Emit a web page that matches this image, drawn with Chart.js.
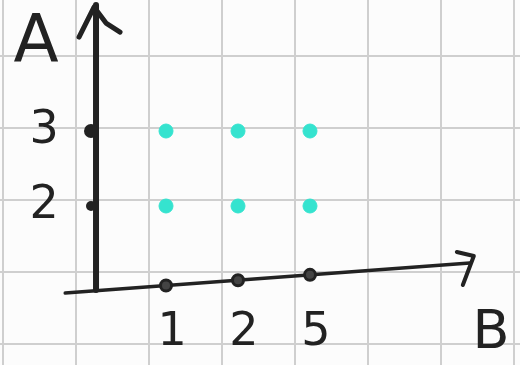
<!DOCTYPE html>
<html>
<head>
<meta charset="utf-8">
<script src="https://cdn.jsdelivr.net/npm/chart.js@4.4.1/dist/chart.umd.min.js"></script>
<style>
  html, body { margin: 0; padding: 0; background: #fcfcfc; }
  #wrap { width: 520px; height: 365px; }
</style>
</head>
<body>
<div id="wrap"><canvas id="myChart"></canvas></div>
<script>
// axis names and tick labels
const axisNameX = 'B';
const axisNameY = 'A';
const ticksB = ['1', '2', '5'];
const ticksA = ['2', '3'];

// the points, one entry per dot (B value, A value)
const pointB = ['1', '2', '5', '1', '2', '5'];
const pointA = ['3', '3', '3', '2', '2', '2'];

// axes cross one step before the first tick; x axis is drawn a bit uphill
const originB = -1;
const xAxisFrom = { b: -1.4, a: -1.16 };
const xAxisTo = { b: 4.22, a: -0.76 };
const yAxisTop = 2.68;
const yAxisBottom = -1.12;

const ink = '#222222';
const teal = '#35e3cf';

const scatterData = pointB.map((b, i) => ({
  x: ticksB.indexOf(b),
  y: ticksA.indexOf(pointA[i])
}));

// A value of the sloped x axis at a given B position
function xAxisA(b) {
  const t = (b - xAxisFrom.b) / (xAxisTo.b - xAxisFrom.b);
  return xAxisFrom.a + t * (xAxisTo.a - xAxisFrom.a);
}

function line(c, pts, w) {
  c.beginPath();
  c.moveTo(pts[0][0], pts[0][1]);
  for (let i = 1; i < pts.length; i++) c.lineTo(pts[i][0], pts[i][1]);
  c.lineWidth = w;
  c.stroke();
}

const sketchAxes = {
  id: 'sketchAxes',
  afterDatasetsDraw(chart) {
    const c = chart.ctx;
    const sx = chart.scales.x;
    const sy = chart.scales.y;
    c.save();
    c.strokeStyle = ink;
    c.fillStyle = ink;
    c.lineCap = 'round';
    c.lineJoin = 'round';

    // vertical axis with arrow
    const yx = sx.getPixelForValue(originB) + 2;
    const yTop = sy.getPixelForValue(yAxisTop);
    line(c, [[yx, sy.getPixelForValue(yAxisBottom)], [yx, yTop]], 6);
    line(c, [[yx - 17, yTop + 32], [yx - 2, yTop + 2], [yx + 10, yTop + 18], [yx + 24, yTop + 27]], 5);

    // horizontal axis with arrow
    const x0 = sx.getPixelForValue(xAxisFrom.b), y0 = sy.getPixelForValue(xAxisFrom.a);
    const x1 = sx.getPixelForValue(xAxisTo.b), y1 = sy.getPixelForValue(xAxisTo.a);
    line(c, [[x0, y0], [x1, y1]], 3.5);
    line(c, [[x1 - 13, y1 - 11], [x1 + 4, y1 - 7], [x1 - 7, y1 + 22]], 4);

    // tick dots and labels along B
    c.font = '46px "DejaVu Sans"';
    c.textAlign = 'center';
    c.textBaseline = 'middle';
    ticksB.forEach((t, i) => {
      const px = sx.getPixelForValue(i);
      const py = sy.getPixelForValue(xAxisA(i));
      c.beginPath();
      c.arc(px, py, 5.5, 0, Math.PI * 2);
      c.lineWidth = 3;
      c.fillStyle = '#444';
      c.fill();
      c.stroke();
      c.fillStyle = ink;
      c.fillText(t, px + 6, 333);
    });

    // tick dots and labels along A
    ticksA.forEach((t, i) => {
      const py = sy.getPixelForValue(i);
      c.beginPath();
      c.arc(yx - 5, py, i === ticksA.length - 1 ? 7 : 5, 0, Math.PI * 2);
      c.fill();
      c.fillText(t, yx - 52, py);
    });

    // axis names
    c.font = '66px "DejaVu Sans"';
    c.fillText(axisNameY, 36, 44);
    c.font = '54px "DejaVu Sans"';
    c.fillText(axisNameX, 491, 334);
    c.restore();
  }
};

const paperGrid = { color: '#cfcfcf', lineWidth: 2, drawTicks: false };

const ctx = document.getElementById('myChart').getContext('2d');
const myChart = new Chart(ctx, {
  type: 'scatter',
  data: {
    datasets: [{
      data: scatterData,
      backgroundColor: teal,
      borderColor: teal,
      pointRadius: 7,
      pointHoverRadius: 7
    }]
  },
  options: {
    responsive: true,
    maintainAspectRatio: false,
    animation: false,
    layout: { padding: 0, autoPadding: false },
    plugins: {
      legend: { display: false },
      tooltip: { enabled: false }
    },
    scales: {
      // B positions and A positions (tick index)
      x: { type: 'linear', display: false, min: -2.306, max: 4.917 },
      y: { type: 'linear', display: false, min: -2.12, max: 2.747 },
      // graph paper squares
      gx: {
        type: 'linear', axis: 'x', position: 'bottom',
        min: -0.04, max: 7.08,
        grid: paperGrid,
        border: { display: false },
        ticks: { display: false, stepSize: 1, includeBounds: false },
        afterFit: s => { s.height = 0; }
      },
      gy: {
        type: 'linear', axis: 'y', position: 'left',
        min: -0.292, max: 4.778,
        grid: paperGrid,
        border: { display: false },
        ticks: { display: false, stepSize: 1, includeBounds: false },
        afterFit: s => { s.width = 0; }
      }
    }
  },
  plugins: [sketchAxes]
});
</script>
</body>
</html>
